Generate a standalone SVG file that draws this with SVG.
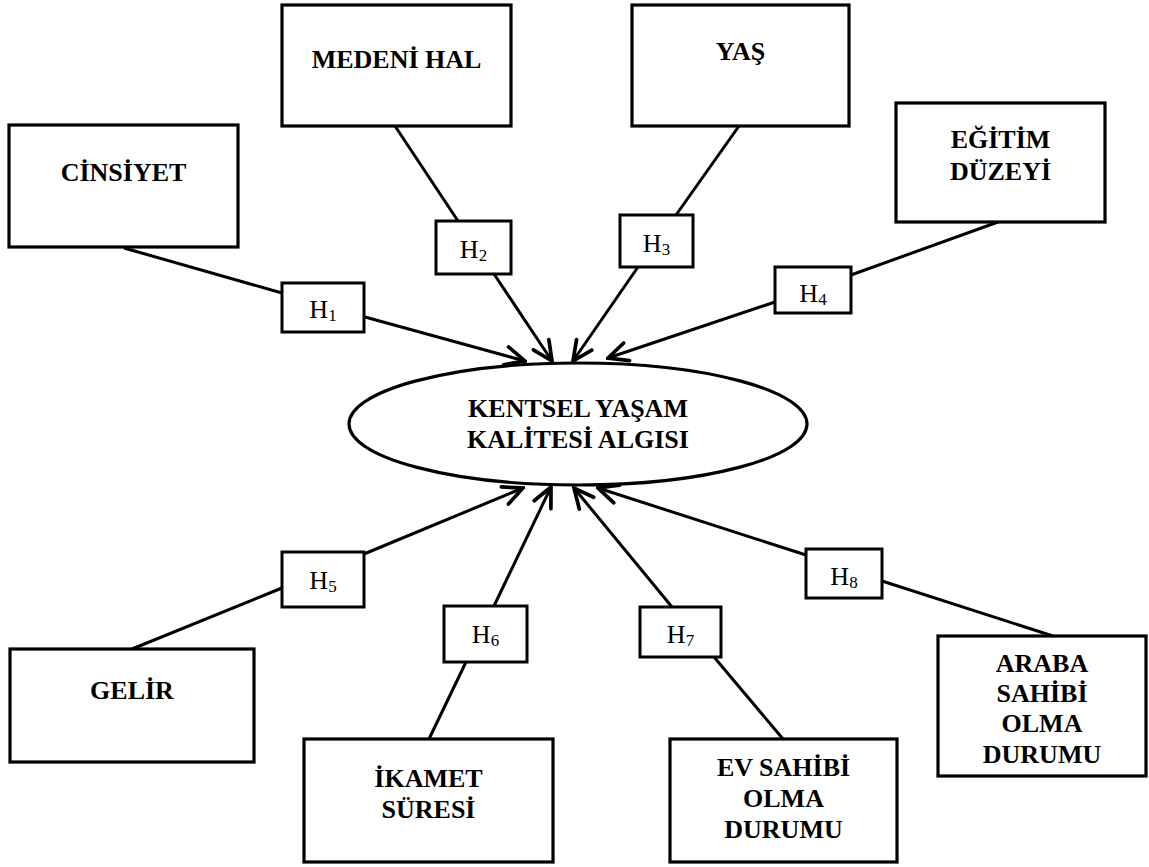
<svg xmlns="http://www.w3.org/2000/svg" width="1149" height="867" viewBox="0 0 1149 867">
<style>
.box{fill:#fff;stroke:#000;stroke-width:3.2}
.hbox{fill:#fff;stroke:#000;stroke-width:3}
.lbl{font-family:"Liberation Serif","Times New Roman",serif;font-weight:bold;font-size:26px;text-anchor:middle;fill:#000}
.h{font-family:"Liberation Serif","Times New Roman",serif;font-size:26px;text-anchor:middle;fill:#000}
.sub{font-size:17px}
.ln{stroke:#000;stroke-width:3;fill:none}
.arr{marker-end:url(#ah)}
</style>
<defs>
<marker id="ah" markerUnits="userSpaceOnUse" markerWidth="24" markerHeight="24" refX="20" refY="10" orient="auto" viewBox="0 0 22 20">
<path d="M2,1.5 L20,10 L2,18.5" fill="none" stroke="#000" stroke-width="3.4" stroke-linecap="round" stroke-linejoin="miter"/>
</marker>
</defs>
<g id="connectors">
<line class="ln" x1="124" y1="248" x2="282" y2="293"/>
<line class="ln arr" x1="365" y1="317" x2="525" y2="361"/>
<line class="ln" x1="395" y1="126" x2="458" y2="221"/>
<line class="ln arr" x1="494" y1="274" x2="552" y2="361"/>
<line class="ln" x1="739" y1="126" x2="676" y2="215"/>
<line class="ln arr" x1="638" y1="267" x2="573" y2="361"/>
<line class="ln" x1="998" y1="222" x2="851" y2="275"/>
<line class="ln arr" x1="775" y1="302" x2="608" y2="358"/>
<line class="ln" x1="132" y1="649" x2="282" y2="588"/>
<line class="ln arr" x1="364" y1="554" x2="523" y2="488"/>
<line class="ln" x1="429" y1="739" x2="466" y2="662"/>
<line class="ln arr" x1="494" y1="606" x2="551" y2="487"/>
<line class="ln" x1="783" y1="739" x2="714" y2="657"/>
<line class="ln arr" x1="672" y1="607" x2="574" y2="488"/>
<line class="ln" x1="1053" y1="636" x2="882" y2="581"/>
<line class="ln arr" x1="806" y1="555" x2="598" y2="488"/>
</g>
<g id="cinsiyet"><rect class="box" x="9" y="125" width="229" height="122"/><text class="lbl" x="123.5" y="181">CİNSİYET</text></g>
<g id="medeni-hal"><rect class="box" x="282" y="5" width="229" height="121"/><text class="lbl" x="396.5" y="68">MEDENİ HAL</text></g>
<g id="yas"><rect class="box" x="632" y="5" width="217" height="121"/><text class="lbl" x="740.5" y="60">YAŞ</text></g>
<g id="egitim"><rect class="box" x="896" y="103" width="209" height="119"/><text class="lbl" x="1000.5" y="148">EĞİTİM</text><text class="lbl" x="1000.5" y="180">DÜZEYİ</text></g>
<g id="kentsel"><ellipse cx="578" cy="424" rx="229" ry="61" fill="#fff" stroke="#000" stroke-width="3.2"/><text class="lbl" x="578" y="417">KENTSEL YAŞAM</text><text class="lbl" x="578" y="448">KALİTESİ ALGISI</text></g>
<g id="gelir"><rect class="box" x="10" y="649" width="244" height="113"/><text class="lbl" x="132" y="699">GELİR</text></g>
<g id="ikamet"><rect class="box" x="304" y="739" width="249" height="123"/><text class="lbl" x="428.5" y="787">İKAMET</text><text class="lbl" x="428.5" y="818">SÜRESİ</text></g>
<g id="ev-sahibi"><rect class="box" x="670" y="739" width="227" height="123"/><text class="lbl" x="783.5" y="776">EV SAHİBİ</text><text class="lbl" x="783.5" y="807">OLMA</text><text class="lbl" x="783.5" y="838">DURUMU</text></g>
<g id="araba-sahibi"><rect class="box" x="938" y="636" width="208" height="140"/><text class="lbl" x="1042" y="672">ARABA</text><text class="lbl" x="1042" y="702">SAHİBİ</text><text class="lbl" x="1042" y="732">OLMA</text><text class="lbl" x="1042" y="763">DURUMU</text></g>
<g id="h1"><rect class="hbox" x="282" y="283" width="82" height="49"/><text class="h" x="323" y="318">H<tspan class="sub" dy="3">1</tspan></text></g>
<g id="h2"><rect class="hbox" x="436" y="221" width="75" height="53"/><text class="h" x="473.5" y="258">H<tspan class="sub" dy="3">2</tspan></text></g>
<g id="h3"><rect class="hbox" x="620" y="215" width="73" height="52"/><text class="h" x="656.5" y="252">H<tspan class="sub" dy="3">3</tspan></text></g>
<g id="h4"><rect class="hbox" x="775" y="267" width="76" height="46"/><text class="h" x="813" y="302">H<tspan class="sub" dy="3">4</tspan></text></g>
<g id="h5"><rect class="hbox" x="282" y="552" width="82" height="55"/><text class="h" x="323" y="589">H<tspan class="sub" dy="3">5</tspan></text></g>
<g id="h6"><rect class="hbox" x="444" y="606" width="83" height="56"/><text class="h" x="485.5" y="643">H<tspan class="sub" dy="3">6</tspan></text></g>
<g id="h7"><rect class="hbox" x="640" y="607" width="81" height="50"/><text class="h" x="680.5" y="643">H<tspan class="sub" dy="3">7</tspan></text></g>
<g id="h8"><rect class="hbox" x="806" y="549" width="76" height="49"/><text class="h" x="844" y="585">H<tspan class="sub" dy="3">8</tspan></text></g>
</svg>
